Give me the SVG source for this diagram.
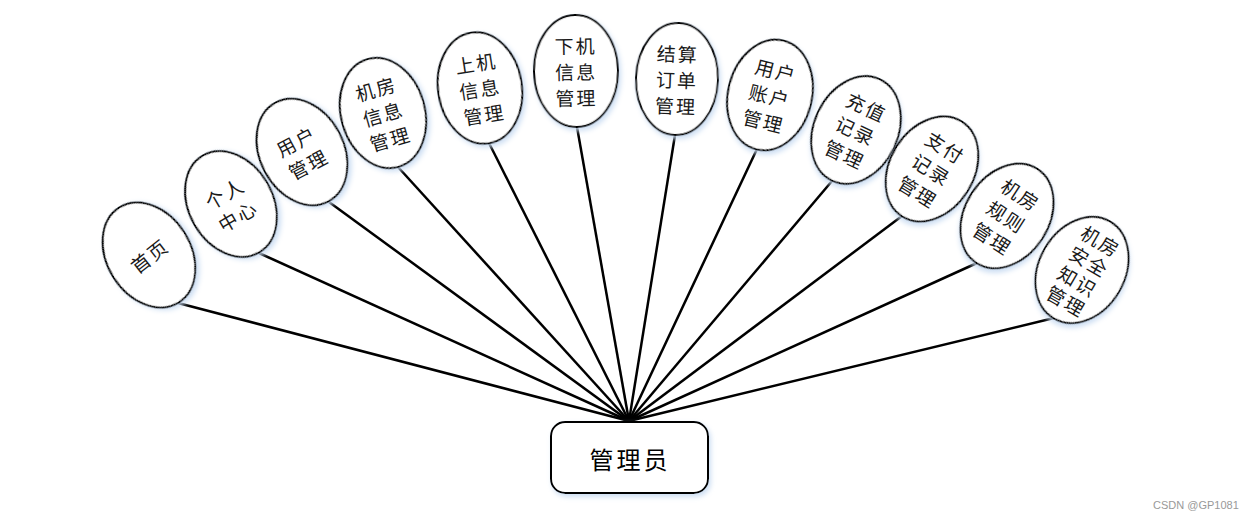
<svg xmlns="http://www.w3.org/2000/svg" width="1255" height="519" viewBox="0 0 1255 519">
<defs>
<filter id="sh" x="-20%" y="-20%" width="140%" height="140%">
<feDropShadow dx="2" dy="3" stdDeviation="2.5" flood-color="#c9dcf2" flood-opacity="0.9"/>
</filter>
<style>
.node ellipse{fill:#fff;stroke:#000;stroke-width:2;filter:url(#sh)}
.node text{font-family:"Noto Sans CJK SC","Noto Sans",sans-serif;font-size:19px;fill:#1a1a1a;text-anchor:middle;dominant-baseline:central;letter-spacing:2px}
#edges line{stroke:#000;stroke-width:2.5}
.hub rect{fill:#fff;stroke:#000;stroke-width:2;filter:url(#sh)}
.hub text{font-family:"Noto Sans CJK SC","Noto Sans",sans-serif;font-size:24px;fill:#000;text-anchor:middle;dominant-baseline:central;letter-spacing:3px}
.wm{font-family:"Liberation Sans",Arial,sans-serif;font-size:11px;fill:#999}
</style>
</defs>
<rect width="1255" height="519" fill="#fff"/>
<g id="edges">
<line x1="629" y1="421" x2="178" y2="303"/>
<line x1="629" y1="421" x2="259" y2="253"/>
<line x1="629" y1="421" x2="329" y2="202"/>
<line x1="629" y1="421" x2="398" y2="167"/>
<line x1="629" y1="421" x2="489" y2="143"/>
<line x1="629" y1="421" x2="577" y2="127"/>
<line x1="629" y1="421" x2="675" y2="135"/>
<line x1="629" y1="421" x2="757" y2="149"/>
<line x1="629" y1="421" x2="832" y2="181"/>
<line x1="629" y1="421" x2="902" y2="216"/>
<line x1="629" y1="421" x2="977" y2="263"/>
<line x1="629" y1="421" x2="1054" y2="318"/>
</g>
<g id="n1" class="node" transform="translate(149,255) rotate(-32)">
<ellipse cx="0" cy="0" rx="42" ry="56"/>
<g transform="rotate(-6)"><text x="0" y="0">首页</text></g>
</g>
<g id="n2" class="node" transform="translate(231,204) rotate(-30)">
<ellipse cx="0" cy="0" rx="42" ry="56"/>
<text x="0" y="-13">个人</text>
<text x="0" y="13">中心</text>
</g>
<g id="n3" class="node" transform="translate(302,152) rotate(-28)">
<ellipse cx="0" cy="0" rx="42" ry="56"/>
<text x="0" y="-13">用户</text>
<text x="0" y="13">管理</text>
</g>
<g id="n4" class="node" transform="translate(383,113) rotate(-16)">
<ellipse cx="0" cy="0" rx="42" ry="56"/>
<text x="0" y="-26">机房</text>
<text x="0" y="0">信息</text>
<text x="0" y="26">管理</text>
</g>
<g id="n5" class="node" transform="translate(480,88) rotate(-9)">
<ellipse cx="0" cy="0" rx="42" ry="56"/>
<text x="0" y="-26">上机</text>
<text x="0" y="0">信息</text>
<text x="0" y="26">管理</text>
</g>
<g id="n6" class="node" transform="translate(576,71) rotate(-1)">
<ellipse cx="0" cy="0" rx="42" ry="56"/>
<text x="0" y="-26">下机</text>
<text x="0" y="0">信息</text>
<text x="0" y="26">管理</text>
</g>
<g id="n7" class="node" transform="translate(677,79) rotate(2)">
<ellipse cx="0" cy="0" rx="41" ry="56"/>
<text x="0" y="-26">结算</text>
<text x="0" y="0">订单</text>
<text x="0" y="26">管理</text>
</g>
<g id="n8" class="node" transform="translate(770,95) rotate(14)">
<ellipse cx="0" cy="0" rx="42" ry="56"/>
<text x="0" y="-26">用户</text>
<text x="0" y="0">账户</text>
<text x="0" y="26">管理</text>
</g>
<g id="n9" class="node" transform="translate(856,130) rotate(25)">
<ellipse cx="0" cy="0" rx="42" ry="56"/>
<text x="0" y="-26">充值</text>
<text x="0" y="0">记录</text>
<text x="0" y="26">管理</text>
</g>
<g id="n10" class="node" transform="translate(932,169) rotate(32)">
<ellipse cx="0" cy="0" rx="42" ry="56"/>
<text x="0" y="-26">支付</text>
<text x="0" y="0">记录</text>
<text x="0" y="26">管理</text>
</g>
<g id="n11" class="node" transform="translate(1007,216) rotate(33)">
<ellipse cx="0" cy="0" rx="42" ry="56"/>
<text x="0" y="-26">机房</text>
<text x="0" y="0">规则</text>
<text x="0" y="26">管理</text>
</g>
<g id="n12" class="node" transform="translate(1082,270) rotate(30)">
<ellipse cx="0" cy="0" rx="43" ry="56"/>
<text x="2" y="-35">机房</text>
<text x="2" y="-12">安全</text>
<text x="2" y="11">知识</text>
<text x="2" y="34">管理</text>
</g>
<g id="hub" class="hub">
<rect x="551" y="422" width="157" height="71" rx="14" ry="14"/>
<text x="630" y="458">管理员</text>
</g>
<text class="wm" x="1153" y="509">CSDN @GP1081</text>
</svg>
